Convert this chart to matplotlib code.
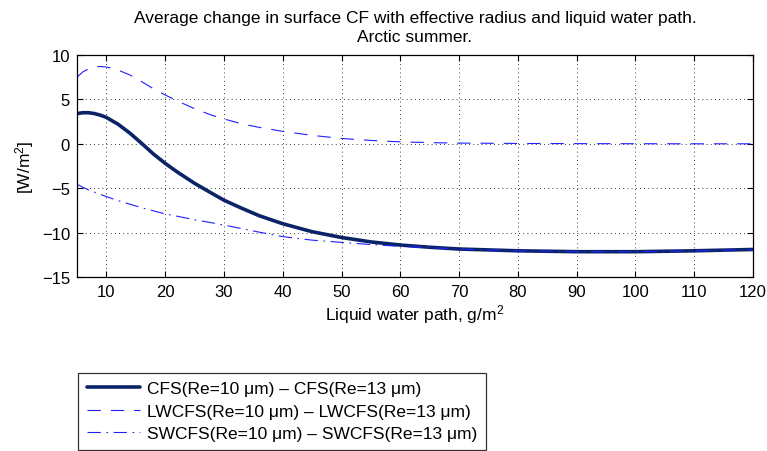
import numpy as np
import matplotlib
matplotlib.use("Agg")
import matplotlib.pyplot as plt

plt.rcParams['font.family'] = ['Liberation Sans', 'DejaVu Sans']
plt.rcParams['mathtext.default'] = 'regular'

# ===== Data =====
lwp = [5, 6, 7, 8, 9, 10, 12, 14, 16, 18, 20, 22, 25, 28, 30, 33, 36, 40,
       45, 50, 55, 60, 65, 70, 80, 90, 100, 110, 120]
cfs = [3.40, 3.50, 3.50, 3.40, 3.22, 2.97, 2.20, 1.20, 0.05, -1.15, -2.2, -3.15,
       -4.45, -5.6, -6.35, -7.25, -8.1, -9.0, -9.9, -10.55, -11.05, -11.4,
       -11.65, -11.85, -12.05, -12.15, -12.15, -12.05, -11.9]
lwcfs = [7.5, 8.1, 8.45, 8.65, 8.7, 8.65, 8.3, 7.75, 7.0, 6.2, 5.5, 4.85, 3.95,
         3.2, 2.8, 2.25, 1.85, 1.4, 0.95, 0.6, 0.38, 0.22, 0.13, 0.08, 0.04,
         0.02, 0.01, 0.0, 0.0]
swcfs = [-4.55, -4.9, -5.2, -5.45, -5.7, -5.95, -6.4, -6.8, -7.2, -7.55, -7.9,
         -8.15, -8.55, -8.9, -9.15, -9.55, -9.95, -10.45, -10.85, -11.1, -11.35,
         -11.55, -11.7, -11.85, -12.05, -12.15, -12.15, -12.05, -11.9]

labels = ["CFS(Re=10 \u03bcm) \u2013 CFS(Re=13 \u03bcm)",
          "LWCFS(Re=10 \u03bcm) \u2013 LWCFS(Re=13 \u03bcm)",
          "SWCFS(Re=10 \u03bcm) \u2013 SWCFS(Re=13 \u03bcm)"]
xticks = [10, 20, 30, 40, 50, 60, 70, 80, 90, 100, 110, 120]
yticks = [-15, -10, -5, 0, 5, 10]

# ===== Figure =====
fig = plt.figure(figsize=(7.67, 4.52), dpi=100)
ax = fig.add_axes([77/767, 1 - 278/452, 676/767, 222/452])

l1, = ax.plot(lwp, cfs, color='#0b2468', lw=2.6, solid_capstyle='round')
l2, = ax.plot(lwp, lwcfs, color='#2020ff', lw=0.8, dashes=(12, 9))
l3, = ax.plot(lwp, swcfs, color='#2020ff', lw=0.8, dashes=(12, 5, 1.5, 5))

ax.set_xlim(5, 120)
ax.set_ylim(-15, 10)
ax.set_xticks(xticks)
ax.set_yticks(yticks)
ax.set_yticklabels([str(t).replace('-', '\u2212') for t in yticks])
ax.tick_params(direction='in', top=True, right=True, length=4, width=0.8,
               labelsize=12, pad=5)
ax.grid(True, color='black', linestyle=(0, (1, 4)), linewidth=0.6)
for s in ax.spines.values():
    s.set_linewidth(0.9)

ax.set_title("Average change in surface CF with effective radius and liquid water path.\nArctic summer.",
             fontsize=12.5, linespacing=1.35, pad=10)
ax.set_xlabel("Liquid water path, g/m$^2$", fontsize=12.5, labelpad=2)
ax.set_ylabel("[W/m$^2$]", fontsize=12.5, labelpad=4)

leg = fig.legend([l1, l2, l3], labels, loc='lower left',
                 bbox_to_anchor=(78/767, 1/452), bbox_transform=fig.transFigure,
                 fontsize=12.5, frameon=True, fancybox=False, borderaxespad=0,
                 handlelength=3.05, handletextpad=0.4, labelspacing=0.42,
                 borderpad=0.5)
leg.get_frame().set_edgecolor('black')
leg.get_frame().set_linewidth(0.9)

fig.savefig("out.png", dpi=100)
